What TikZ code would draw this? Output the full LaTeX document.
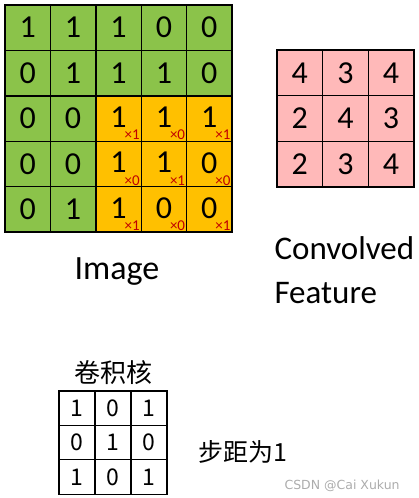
\documentclass[tikz,border=0pt]{standalone}
\usepackage{fontspec}
\setmainfont{Carlito}
\newfontfamily\cjk{Noto Sans CJK SC}
\newfontfamily\wmfont{DejaVu Sans}
\usetikzlibrary{positioning}
\definecolor{imggreen}{RGB}{139,195,74}
\definecolor{imgorange}{RGB}{255,192,0}
\definecolor{featpink}{RGB}{255,185,185}
\definecolor{wdarkred}{RGB}{192,0,0}
\tikzset{
  imgcell/.style={draw=black, line width=1.4pt, minimum size=45.4pt, inner sep=0pt,
    font=\fontsize{32}{32}\selectfont},
  featcell/.style={imgcell, fill=featpink, minimum size=45.6pt},
  kercell/.style={draw=black, line width=1.2pt, minimum width=36pt, minimum height=34.4pt,
    inner sep=0pt, font=\cjk\fontsize{23}{23}\selectfont},
  weight/.style={text=wdarkred, inner sep=0.5pt, font=\fontsize{15}{15}\selectfont},
}
\begin{document}
\begin{tikzpicture}[x=1pt, y=-1pt]
\useasboundingbox (0,0) rectangle (418,498);
% input image 5x5, window cells in orange
\foreach \row [count=\r] in {{1,1,1,0,0},{0,1,1,1,0},{0,0,1,1,1},{0,0,1,1,0},{0,1,1,0,0}}
  \foreach \v [count=\c] in \row {
    \pgfmathsetmacro{\inwin}{(\r>2)&&(\c>2)}
    \ifdim\inwin pt>0pt
      \node[imgcell, fill=imgorange] (img-\r-\c) at ({5+45.4*(\c-0.5)}, {5+45.4*(\r-0.5)}) {\raisebox{2.5pt}{\v}\hspace{5pt}};
    \else
      \node[imgcell, fill=imggreen] (img-\r-\c) at ({5+45.4*(\c-0.5)}, {5+45.4*(\r-0.5)}) {\v};
    \fi
  }
% kernel weights on the window
\foreach \row [count=\r] in {{1,0,1},{0,1,0},{1,0,1}}
  \foreach \w [count=\c] in \row {
    \pgfmathtruncatemacro{\ir}{\r+2}
    \pgfmathtruncatemacro{\ic}{\c+2}
    \node[weight, anchor=south east] (w-\r-\c) at ([xshift=-1.5pt, yshift=1.5pt]img-\ir-\ic.south east) {×\w};
  }
\node (imglabel) at (117,272) {\fontsize{34}{34}\selectfont Image};
% convolved feature 3x3
\foreach \row [count=\r] in {{4,3,4},{2,4,3},{2,3,4}}
  \foreach \v [count=\c] in \row
    \node[featcell] (feat-\r-\c) at ({277+45.6*(\c-0.5)}, {50+45.6*(\r-0.5)}) {\v};
\node[anchor=west, align=left, font=\fontsize{33}{44}\selectfont] (featlabel) at (271,270) {Convolved\\Feature};
% kernel 3x3
\node[font=\cjk\fontsize{26}{26}\selectfont] (kerlabel) at (113,373) {卷积核};
\foreach \row [count=\r] in {{1,0,1},{0,1,0},{1,0,1}}
  \foreach \v [count=\c] in \row
    \node[kercell] (ker-\r-\c) at ({59+36*(\c-0.5)}, {391+34.4*(\r-0.5)}) {\v};
\node[font=\cjk\fontsize{25}{25}\selectfont, anchor=west] (stride) at (195,452) {步距为1};
\node[font=\wmfont\fontsize{12.5}{12.5}\selectfont, text=gray!65, anchor=west] (mark) at (281,486) {CSDN @Cai Xukun};
\end{tikzpicture}
\end{document}
